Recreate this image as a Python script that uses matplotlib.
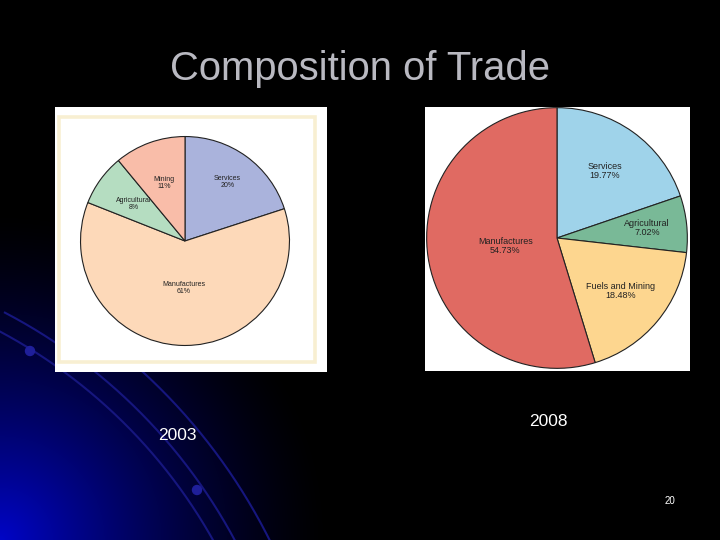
import numpy as np
import matplotlib
matplotlib.use('Agg')
import matplotlib.pyplot as plt
from matplotlib.patches import Rectangle, Circle

plt.rcParams['font.family'] = ['Liberation Sans', 'DejaVu Sans']

# data
labels_2003 = ['Services', 'Manufactures', 'Agricultural', 'Mining']
values_2003 = [20, 61, 8, 11]
colors_2003 = ['#aab3dc', '#fdd9b9', '#b5ddc1', '#f9bda9']

labels_2008 = ['Services', 'Agricultural', 'Fuels and Mining', 'Manufactures']
values_2008 = [19.77, 7.02, 18.48, 54.73]
colors_2008 = ['#9fd3ea', '#79b997', '#fdd68f', '#e06a62']

title = 'Composition of Trade'
years = ['2003', '2008']
slide_no = '20'

W, H = 720, 540
fig = plt.figure(figsize=(7.2, 5.4), dpi=100)
fig.patch.set_facecolor('black')

# background: black slide with blue glow in lower-left and arcs
bg = fig.add_axes([0, 0, 1, 1])
bg.set_xlim(0, W)
bg.set_ylim(H, 0)
bg.axis('off')
yy, xx = np.mgrid[0:H, 0:W]
d = np.sqrt(xx**2 + (H - yy)**2) / 330.0
glow = np.clip(1 - d, 0, 1) ** 1.4
img = np.zeros((H, W, 3))
img[..., 2] = 0.78 * glow
img[..., 1] = 0.02 * glow
bg.imshow(img, extent=(0, W, H, 0), zorder=0, aspect='auto')

cx, cy = -250, 800
t = np.linspace(-np.pi / 2, 0.2, 600)
for r in [531, 550, 581]:
    ax_, ay_ = cx + r * np.cos(t), cy + r * np.sin(t)
    keep = ay_ >= 312
    bg.plot(ax_[keep], ay_[keep], color='#16167e', lw=1.5, zorder=1)
for px, py in [(30, 351), (197, 490)]:
    bg.add_patch(Circle((px, py), 4.5, color='#1f1f9a', zorder=2))

# picture frames
bg.add_patch(Rectangle((55, 107), 272, 265, facecolor='white', edgecolor='none', zorder=3))
bg.add_patch(Rectangle((59, 117), 256, 245, facecolor='white', edgecolor='#f8efd2', lw=2.6, zorder=3))
bg.add_patch(Rectangle((425, 107), 265, 264, facecolor='white', edgecolor='none', zorder=3))

bg.text(360, 69, title, color='#b9b9c1', fontsize=28.8, ha='center', va='center', zorder=5)
bg.text(177, 435, years[0], color='white', fontsize=12.5, ha='center', va='center', zorder=5)
bg.text(548, 421, years[1], color='white', fontsize=12.5, ha='center', va='center', zorder=5)
bg.text(670, 501, slide_no, color='white', fontsize=7, ha='center', va='center', zorder=5)


def draw_pie(center, radius, values, labels, colors, fmt, rads, fs):
    x0, y0 = center
    ax = fig.add_axes([(x0 - radius) / W, (H - y0 - radius) / H, 2 * radius / W, 2 * radius / H])
    wedges, _ = ax.pie(values, colors=colors, startangle=90, counterclock=False, radius=0.995,
                       wedgeprops=dict(edgecolor='#222222', linewidth=0.8))
    ax.set_aspect('auto')
    ax.set_xlim(-1, 1)
    ax.set_ylim(-1, 1)
    ax.axis('off')
    for w, lab, v, rr in zip(wedges, labels, values, rads):
        ang = np.deg2rad((w.theta1 + w.theta2) / 2)
        ax.text(rr * np.cos(ang), rr * np.sin(ang), lab + '\n' + fmt.format(v),
                ha='center', va='center', fontsize=fs, color='#222222', linespacing=1.0)
    return ax


draw_pie((185, 241), 105, values_2003, labels_2003, colors_2003, '{:.0f}%',
         [0.69, 0.45, 0.6, 0.59], 5)
draw_pie((557, 238), 131, values_2008, labels_2008, colors_2008, '{:.2f}%',
         [0.63, 0.69, 0.63, 0.4], 6.5)

fig.savefig('out.png', dpi=100, facecolor='black')
